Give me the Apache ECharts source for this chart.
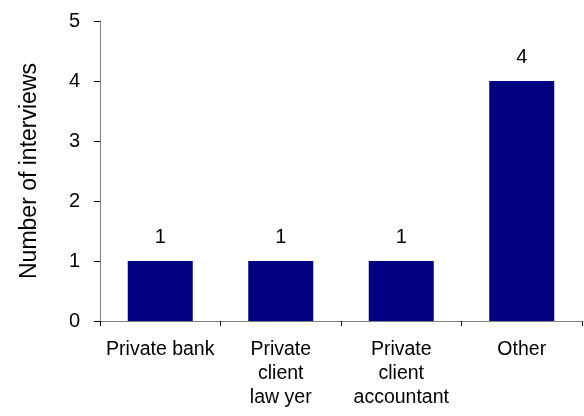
<!DOCTYPE html>
<html><head><meta charset="utf-8">
<script src="https://cdn.jsdelivr.net/npm/echarts@6/dist/echarts.min.js"></script>
<style>html,body{margin:0;padding:0;background:#fff}#c{width:584px;height:416px}</style>
</head><body><div id="c"></div>
<script>
const categories = ["Private bank", "Private\nclient\nlaw yer", "Private\nclient\naccountant", "Other"];
const values = [1, 1, 1, 4];
const yTicks = [0, 1, 2, 3, 4, 5];
const yTitle = "Number of interviews";

const chart = echarts.init(document.getElementById('c'), null, {renderer: 'canvas'});
const font = "Liberation Sans, Arial, sans-serif";
chart.setOption({
  animation: false,
  backgroundColor: '#ffffff',
  grid: {left: 100, right: 2, top: 21, bottom: 95, containLabel: false},
  xAxis: {
    type: 'category', data: categories,
    axisLine: {lineStyle: {color: '#808080', width: 1}},
    axisTick: {show: true, alignWithLabel: false, length: 5, lineStyle: {color: '#000'}},
    axisLabel: {color: '#000', fontFamily: font, fontSize: 19.5, lineHeight: 24, margin: 17, interval: 0}
  },
  yAxis: {
    type: 'value', min: yTicks[0], max: yTicks[yTicks.length-1], interval: 1,
    name: yTitle, nameLocation: 'middle', nameGap: 59,
    nameTextStyle: {color: '#000', fontFamily: font, fontSize: 23},
    axisLine: {show: true, lineStyle: {color: '#808080', width: 1}},
    axisTick: {show: true, length: 6, lineStyle: {color: '#000'}},
    axisLabel: {color: '#000', fontFamily: font, fontSize: 20, margin: 20},
    splitLine: {show: false}
  },
  series: [{
    type: 'bar', data: values, barWidth: 65,
    itemStyle: {color: '#000080'},
    label: {show: true, position: 'top', distance: 14, color: '#000', fontFamily: font, fontSize: 20}
  }]
});
</script></body></html>
